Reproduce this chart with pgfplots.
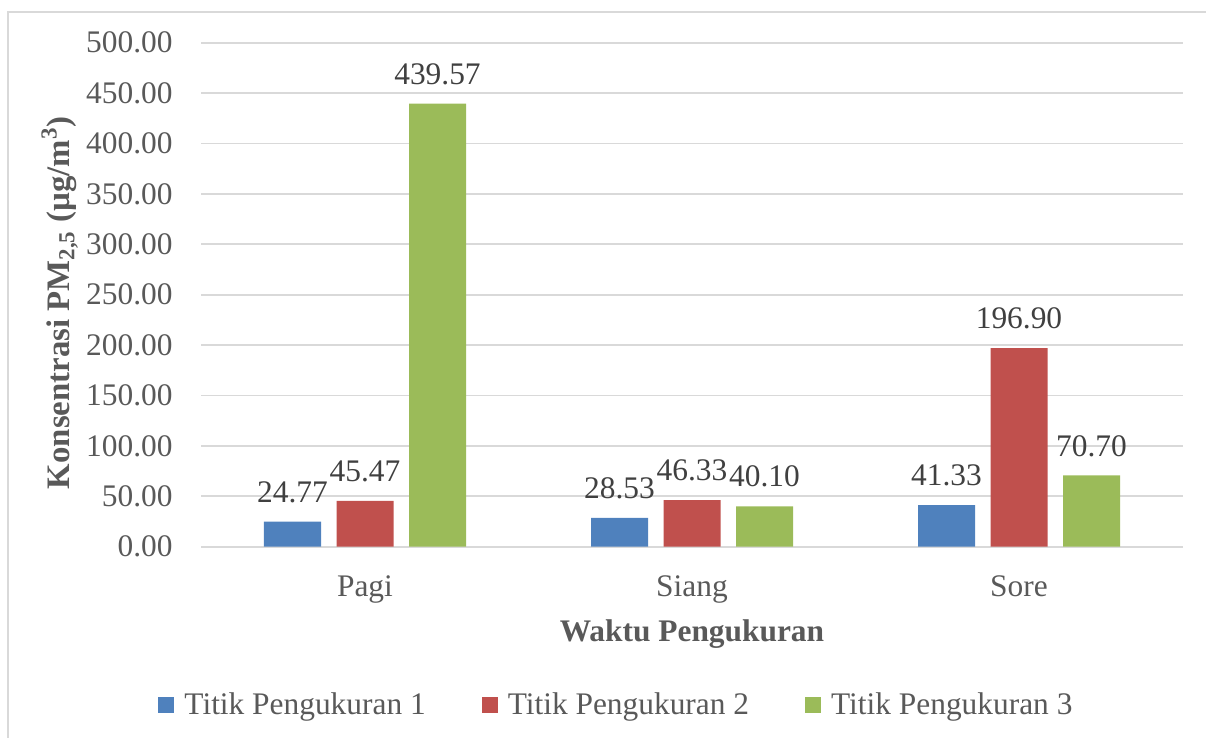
\documentclass[border=0pt]{standalone}
\usepackage{pgfplots}
\pgfplotsset{compat=1.18}
\usepackage{fontspec}
\setmainfont{Liberation Serif}
\definecolor{cblue}{HTML}{4F81BD}
\definecolor{cred}{HTML}{C0504D}
\definecolor{cgreen}{HTML}{9BBB59}
\definecolor{gridgray}{HTML}{D9D9D9}
\definecolor{txtgray}{HTML}{595959}
\definecolor{lblgray}{HTML}{404040}
\newcommand\chartfont{\fontsize{15.7}{18.8}\selectfont}
\newcommand\ylabfont{\fontsize{16.4}{19.6}\selectfont}
\begin{document}
\begin{tikzpicture}
\useasboundingbox (0,0) rectangle (603pt,-369pt);
\clip (0,0) rectangle (603pt,-369pt);
\draw[gridgray, line width=0.85pt] (4pt,-6pt) rectangle (640pt,-400pt);
\begin{axis}[
  at={(100.75pt,-273.35pt)}, anchor=south west,
  scale only axis, width=490.5pt, height=252pt,
  ybar=7.75pt, bar width=28.5pt,
  xmin=-0.5, xmax=2.5, ymin=0, ymax=500,
  xtick={0,1,2}, xticklabels={Pagi,Siang,Sore},
  ytick={0,50,...,500},
  axis line style={draw=none}, major tick style={draw=none},
  ymajorgrids, major grid style={gridgray, line width=0.85pt},
  /pgf/number format/fixed, /pgf/number format/fixed zerofill,
  /pgf/number format/precision=2, /pgf/number format/assume math mode=true,
  yticklabel style={font=\chartfont, text=txtgray, anchor=east, inner sep=0pt, xshift=-14.25pt},
  xticklabel style={font=\chartfont, text=txtgray, anchor=base, inner sep=0pt, yshift=-20.5pt},
  xlabel={Waktu Pengukuran},
  xlabel style={font=\chartfont\bfseries, text=txtgray, at={(axis description cs:0.5,0)}, anchor=base, inner sep=0pt, yshift=-47.5pt},
  ylabel={Konsentrasi PM\textsubscript{2,5} (µg/m\textsuperscript{3})},
  ylabel style={font=\ylabfont\bfseries, text=txtgray, at={(axis description cs:-0.135,0.484)}, rotate=0, anchor=base, inner sep=0pt},
  nodes near coords,
  nodes near coords style={font=\chartfont, text=lblgray, inner sep=0pt, anchor=south, yshift=9.25pt},
  legend columns=3,
  legend style={draw=none, fill=none, font=\chartfont, text=txtgray,
    at={(axis description cs:-0.0443,-0.3135)}, anchor=west, inner sep=0pt,
    nodes={inner sep=0pt},
    /tikz/every odd column/.append style={column sep=5pt},
    /tikz/every even column/.append style={column sep=28pt}},
  legend image code/.code={\fill[#1] (0pt,-4pt) rectangle (8pt,4pt);},
]
\addplot[fill=cblue, draw=none] coordinates {(0,24.77) (1,28.53) (2,41.33)};
\addplot[fill=cred, draw=none] coordinates {(0,45.47) (1,46.33) (2,196.90)};
\addplot[fill=cgreen, draw=none] coordinates {(0,439.57) (1,40.10) (2,70.70)};
\legend{Titik Pengukuran 1, Titik Pengukuran 2, Titik Pengukuran 3}
\end{axis}
\end{tikzpicture}
\end{document}
